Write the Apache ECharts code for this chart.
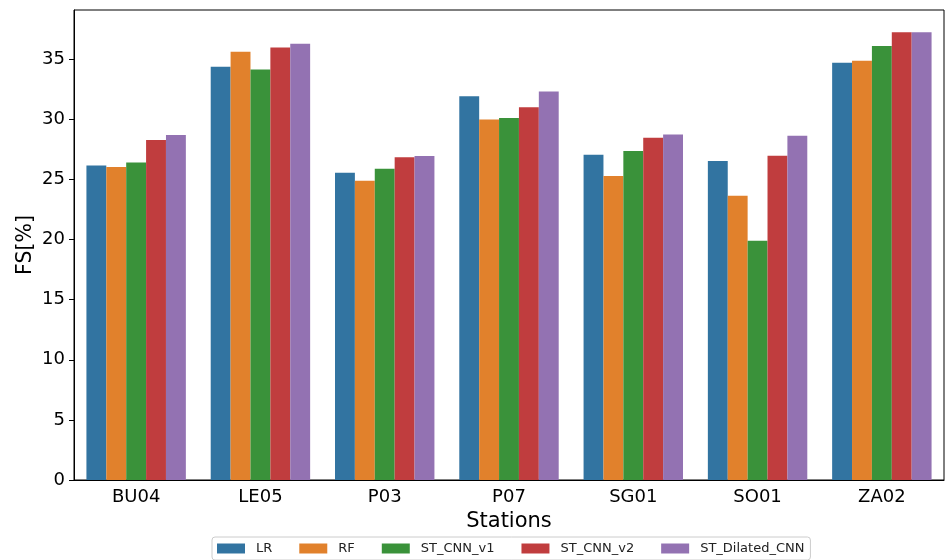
<!DOCTYPE html>
<html><head><meta charset="utf-8">
<script src="https://cdn.jsdelivr.net/npm/echarts@6/dist/echarts.min.js"></script>
<style>html,body{margin:0;padding:0;background:#fff}#c{width:945px;height:560px}</style>
</head><body><div id="c"></div>
<script>
const categories = ['BU04','LE05','P03','P07','SG01','SO01','ZA02'];
const seriesNames = ['LR','RF','ST_CNN_v1','ST_CNN_v2','ST_Dilated_CNN'];
const LR = [26.17, 34.38, 25.57, 31.92, 27.06, 26.54, 34.72];
const RF = [26.04, 35.63, 24.90, 30.00, 25.29, 23.65, 34.88];
const ST_CNN_v1 = [26.42, 34.16, 25.90, 30.12, 27.37, 19.91, 36.10];
const ST_CNN_v2 = [28.29, 35.99, 26.84, 31.00, 28.48, 26.98, 37.24];
const ST_Dilated_CNN = [28.70, 36.30, 26.95, 32.33, 28.75, 28.64, 37.24];
const yTicks = [0,5,10,15,20,25,30,35];
const colors = ['#3274a1','#e1812c','#3a923a','#c03d3e','#9372b2'];
const values = [LR, RF, ST_CNN_v1, ST_CNN_v2, ST_Dilated_CNN];
const font = 'DejaVu Sans';
const chart = echarts.init(document.getElementById('c'));
chart.setOption({
  animation: false,
  textStyle: {fontFamily: font},
  grid: {left: 74, right: 1, top: 10, bottom: 80, show: true, borderColor: '#000', borderWidth: 1},
  legend: {
    data: seriesNames, top: 537, left: 212, icon: 'rect', itemWidth: 28, itemHeight: 10, itemGap: 27,
    textStyle: {fontFamily: font, fontSize: 13, color: '#222', padding: [0, 0, 0, 6]},
    borderColor: '#cccccc', borderWidth: 1, borderRadius: 3, padding: [5, 6, 5, 5], backgroundColor: '#fff'
  },
  xAxis: {
    type: 'category', data: categories,
    name: 'Stations', nameLocation: 'middle', nameGap: 31, nameMoveOverlap: false,
    nameTextStyle: {fontFamily: font, fontSize: 21, color: '#000'},
    axisLine: {lineStyle: {color: '#000', width: 1}},
    axisTick: {alignWithLabel: true, length: 5, lineStyle: {color: '#000'}},
    axisLabel: {fontFamily: font, fontSize: 18, color: '#000', margin: 8}
  },
  yAxis: {
    type: 'value', min: 0, max: 39.1,
    name: 'FS[%]', nameLocation: 'middle', nameGap: 38, nameMoveOverlap: false,
    nameTextStyle: {fontFamily: font, fontSize: 20.5, color: '#000'},
    splitLine: {show: false},
    axisLine: {show: true, lineStyle: {color: '#000', width: 1}},
    axisTick: {show: true, length: 5, lineStyle: {color: '#000'}, customValues: yTicks},
    axisLabel: {fontFamily: font, fontSize: 18, color: '#000', margin: 9, customValues: yTicks}
  },
  series: seriesNames.map((n, i) => ({
    name: n, type: 'bar', data: values[i], barGap: '0%', barCategoryGap: '20%',
    itemStyle: {color: colors[i]}
  }))
});
</script></body></html>
